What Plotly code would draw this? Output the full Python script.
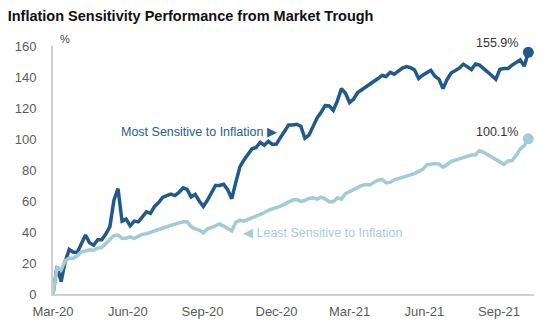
import pandas as pd
import plotly.graph_objects as go

# Cumulative return since the March 2020 market trough, sampled every 5 days
start_date = "2020-03-23"
step = "5D"

most_sensitive = [
    0, 17.8, 8, 21, 28.7, 27, 27, 32, 38, 33,
    31.5, 35, 35, 38.7, 43.5, 60.5, 68, 47, 48.3, 44,
    47, 46.5, 50, 53, 52, 56.5, 59, 62.3, 63.5, 64.5,
    63.5, 65.5, 68.5, 67.5, 62.6, 64.3, 60, 56.5, 60.5, 65.5,
    70, 70, 70.8, 67.3, 61.5, 72, 82, 86.4, 90, 93.7,
    94.5, 97.8, 96, 98.5, 96.5, 96.7, 101, 105.3, 109, 109,
    109.5, 108.2, 100.5, 102.5, 108.3, 113.5, 117.3, 121.5, 121.3, 118.5,
    124.6, 132.5, 129.5, 123.5, 125.7, 130, 131.8, 133.5, 135, 137,
    139, 141, 140.3, 143, 141.8, 143.8, 145.8, 146.7, 146, 144.5,
    139, 141.2, 143, 144.3, 140.5, 138.6, 132.5, 138.4, 142.5, 144.2,
    145.7, 148.3, 146.6, 144.8, 148.4, 147.7, 145.4, 143.5, 141, 138.5,
    145, 145.5, 145.5, 147.7, 149.4, 151, 147, 155.9,
]

least_sensitive = [
    0, 17, 15.5, 21.5, 23.2, 22.9, 24.8, 27.2, 27.8, 28.5,
    28.2, 29.6, 30, 32.2, 35.1, 37.7, 38, 35.9, 36, 36.9,
    35.8, 37.3, 38.5, 38.9, 39.9, 41, 41.8, 42.4, 43.4, 44.3,
    45.1, 45.5, 46.6, 46.7, 43.5, 42, 41.2, 39.4, 42, 42.9,
    44.3, 45.2, 43.8, 41.9, 40.6, 46.3, 47.6, 47, 48, 49.6,
    50.6, 51.4, 52.4, 54, 54.8, 55.6, 56.7, 58, 59.6, 60.6,
    60.9, 59.8, 60.3, 61.6, 62.1, 61.2, 62.5, 61.4, 59.4, 59.7,
    62, 61.2, 64.8, 66.1, 67.5, 68.7, 70, 70.7, 70.4, 72.1,
    73.4, 73.9, 71.6, 72, 73.7, 74.4, 75.4, 76.4, 76.9, 77.7,
    78.9, 80.4, 83.3, 83.5, 84.2, 83.8, 81.9, 83.4, 85.5, 86.4,
    87.2, 88.2, 89, 89.7, 89.8, 92.5, 91.4, 89.9, 88.2, 87.3,
    85.5, 83.7, 85.8, 86.1, 89.4, 93.6, 95.8, 100.1,
]

dates = pd.date_range(start_date, periods=len(most_sensitive), freq=step)

tick_dates = ["2020-03-23", "2020-06-23", "2020-09-23", "2020-12-23",
              "2021-03-23", "2021-06-23", "2021-09-23"]
tick_labels = ["Mar-20", "Jun-20", "Sep-20", "Dec-20", "Mar-21", "Jun-21", "Sep-21"]
y_ticks = [0, 20, 40, 60, 80, 100, 120, 140, 160]

DARK = "#22598c"
LIGHT = "#a3cbd5"
FONT = "Liberation Sans, Arial, sans-serif"

fig = go.Figure()
fig.add_trace(go.Scatter(
    x=dates, y=most_sensitive, mode="lines",
    line=dict(color=DARK, width=3.5), name="Most Sensitive to Inflation",
))
fig.add_trace(go.Scatter(
    x=dates, y=least_sensitive, mode="lines",
    line=dict(color=LIGHT, width=3.5), name="Least Sensitive to Inflation",
))
# end-point markers
fig.add_trace(go.Scatter(
    x=[dates[-1]], y=[most_sensitive[-1]], mode="markers",
    marker=dict(color=DARK, size=11), hoverinfo="skip",
))
fig.add_trace(go.Scatter(
    x=[dates[-1]], y=[least_sensitive[-1]], mode="markers",
    marker=dict(color=LIGHT, size=11), hoverinfo="skip",
))

annotations = [
    dict(x=dates[-1], y=most_sensitive[-1], text=f"{most_sensitive[-1]:.1f}%",
         xanchor="right", yanchor="middle", xshift=-8, yshift=9, showarrow=False,
         font=dict(family=FONT, size=12.5, color="#333333")),
    dict(x=dates[-1], y=least_sensitive[-1], text=f"{least_sensitive[-1]:.1f}%",
         xanchor="right", yanchor="middle", xshift=-8, yshift=7, showarrow=False,
         font=dict(family=FONT, size=12.5, color="#333333")),
    dict(x="2020-12-26", y=104.5, text="Most Sensitive to Inflation \u25b6",
         xanchor="right", yanchor="middle", showarrow=False,
         font=dict(family=FONT, size=12.5, color="#2b5d8e")),
    dict(x="2020-11-09", y=39.5, text="\u25c0 Least Sensitive to Inflation",
         xanchor="left", yanchor="middle", showarrow=False,
         font=dict(family=FONT, size=12.5, color="#a9ccd6")),
    dict(xref="paper", yref="paper", x=0.01, y=0.995, text="%",
         xanchor="left", yanchor="bottom", showarrow=False,
         font=dict(family=FONT, size=11, color="#444444")),
]

fig.update_layout(
    width=550, height=331,
    margin=dict(l=53, r=16, t=46, b=32),
    paper_bgcolor="white", plot_bgcolor="white",
    showlegend=False,
    title=dict(
        text="<b>Inflation Sensitivity Performance from Market Trough</b>",
        xref="container", yref="container", x=0.014, y=0.952,
        xanchor="left", yanchor="middle",
        font=dict(family=FONT, size=14.5, color="#111111"),
    ),
    annotations=annotations,
    xaxis=dict(
        type="date", range=["2020-03-23", "2021-11-05"],
        tickvals=tick_dates, ticktext=tick_labels,
        showgrid=False, zeroline=False,
        showline=True, linecolor="#d0d0d0", linewidth=2,
        ticks="", ticklabelstandoff=4,
        tickfont=dict(family=FONT, size=13, color="#5a5a5a"),
    ),
    yaxis=dict(
        range=[0, 160], tickvals=y_ticks,
        showgrid=False, zeroline=False,
        showline=True, linecolor="#d0d0d0", linewidth=2,
        ticks="", ticklabelstandoff=12,
        tickfont=dict(family=FONT, size=13, color="#5a5a5a"),
    ),
)

fig.write_html("out.html")
